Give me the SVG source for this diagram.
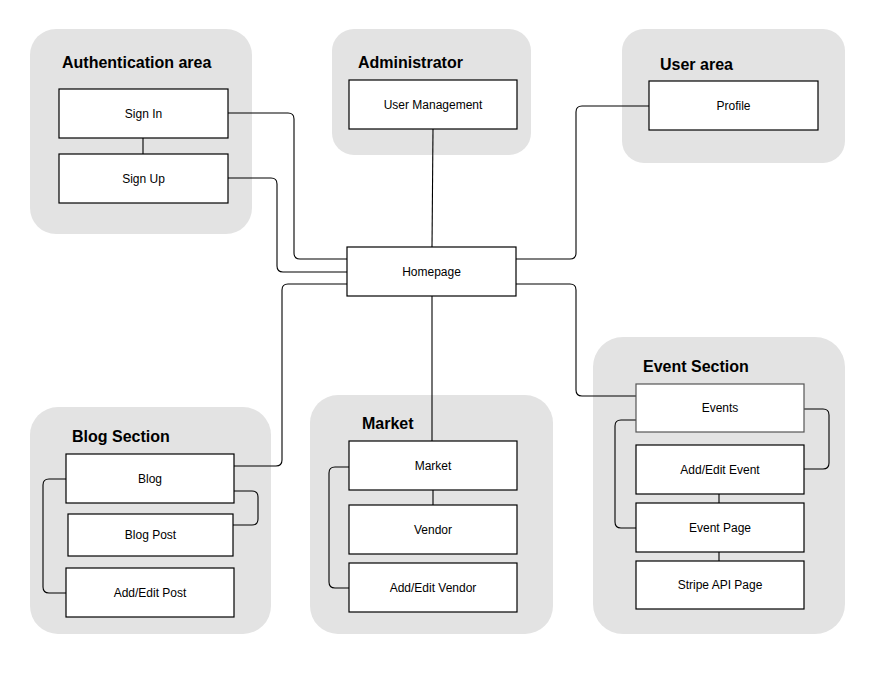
<svg xmlns="http://www.w3.org/2000/svg" width="874" height="677" viewBox="0 0 874 677">
<style>
.area{fill:#e3e3e3;stroke:none}
.title{font-family:"Liberation Sans",Arial,sans-serif;font-size:16px;font-weight:bold;fill:#000}
.box{fill:#fff;stroke:#000;stroke-width:1.2}
.lbl{font-family:"Liberation Sans",Arial,sans-serif;font-size:12px;fill:#000;text-anchor:middle;dominant-baseline:central}
.conn{fill:none;stroke:#000;stroke-width:1.1}
</style>
<rect width="874" height="677" fill="#fff"/>
<g id="areas">
<g id="auth-area"><rect class="area" x="30" y="29" width="222" height="205" rx="26"/><text class="title" x="62" y="68">Authentication area</text></g>
<g id="admin-area"><rect class="area" x="332" y="29" width="199" height="126" rx="22"/><text class="title" x="358" y="68">Administrator</text></g>
<g id="user-area"><rect class="area" x="622" y="29" width="223" height="134" rx="22"/><text class="title" x="660" y="70">User area</text></g>
<g id="blog-area"><rect class="area" x="30" y="407" width="241" height="227" rx="28"/><text class="title" x="72" y="442">Blog Section</text></g>
<g id="market-area"><rect class="area" x="310" y="395" width="243" height="239" rx="28"/><text class="title" x="362" y="429">Market</text></g>
<g id="event-area"><rect class="area" x="593" y="337" width="252" height="297" rx="30"/><text class="title" x="643" y="372">Event Section</text></g>
</g>
<g id="connectors">
<path class="conn" d="M143,138 V154"/>
<path class="conn" d="M228,113 H288 Q294,113 294,119 V253 Q294,259 300,259 H347"/>
<path class="conn" d="M228,178 H271 Q277,178 277,184 V266 Q277,272 283,272 H347"/>
<path class="conn" d="M347,284 H288 Q282,284 282,290 V460 Q282,466 276,466 H234"/>
<path class="conn" d="M234,491 H252 Q258,491 258,497 V519 Q258,525 252,525 H233"/>
<path class="conn" d="M66,479 H49 Q43,479 43,485 V587 Q43,593 49,593 H66"/>
<path class="conn" d="M433,129 L432,247"/>
<path class="conn" d="M649,106 H582 Q576,106 576,112 V253 Q576,259 570,259 H516"/>
<path class="conn" d="M516,284 H570 Q576,284 576,290 V390 Q576,396 582,396 H636"/>
<path class="conn" d="M432,296 V441"/>
<path class="conn" d="M433,490 V505"/>
<path class="conn" d="M349,467 H335 Q329,467 329,473 V582 Q329,588 335,588 H349"/>
<path class="conn" d="M804,409 H823 Q829,409 829,415 V463 Q829,469 823,469 H804"/>
<path class="conn" d="M636,420 H621 Q615,420 615,426 V522 Q615,528 621,528 H636"/>
<path class="conn" d="M719,494 V503"/>
<path class="conn" d="M719,552 V561"/>
</g>
<g id="sign-in"><rect class="box" x="59" y="89" width="169" height="49"/><text class="lbl" x="143.5" y="113.5">Sign In</text></g>
<g id="sign-up"><rect class="box" x="59" y="154" width="169" height="49"/><text class="lbl" x="143.5" y="178.5">Sign Up</text></g>
<g id="user-management"><rect class="box" x="349" y="80" width="168" height="49"/><text class="lbl" x="433" y="104.5">User Management</text></g>
<g id="profile"><rect class="box" x="649" y="81" width="169" height="49"/><text class="lbl" x="733.5" y="105.5">Profile</text></g>
<g id="homepage"><rect class="box" x="347" y="247" width="169" height="49"/><text class="lbl" x="431.5" y="271.5">Homepage</text></g>
<g id="blog"><rect class="box" x="66" y="454" width="168" height="49"/><text class="lbl" x="150" y="478.5">Blog</text></g>
<g id="blog-post"><rect class="box" x="68" y="514" width="165" height="42"/><text class="lbl" x="150.5" y="535">Blog Post</text></g>
<g id="add-edit-post"><rect class="box" x="66" y="568" width="168" height="49"/><text class="lbl" x="150" y="592.5">Add/Edit Post</text></g>
<g id="market"><rect class="box" x="349" y="441" width="168" height="49"/><text class="lbl" x="433" y="465.5">Market</text></g>
<g id="vendor"><rect class="box" x="349" y="505" width="168" height="49"/><text class="lbl" x="433" y="529.5">Vendor</text></g>
<g id="add-edit-vendor"><rect class="box" x="349" y="563" width="168" height="49"/><text class="lbl" x="433" y="587.5">Add/Edit Vendor</text></g>
<g id="events"><rect class="box" x="636" y="384" width="168" height="48" style="stroke:#555"/><text class="lbl" x="720" y="408">Events</text></g>
<g id="add-edit-event"><rect class="box" x="636" y="445" width="168" height="49"/><text class="lbl" x="720" y="469.5">Add/Edit Event</text></g>
<g id="event-page"><rect class="box" x="636" y="503" width="168" height="49"/><text class="lbl" x="720" y="527.5">Event Page</text></g>
<g id="stripe-api-page"><rect class="box" x="636" y="561" width="168" height="48"/><text class="lbl" x="720" y="585">Stripe API Page</text></g>
</svg>
